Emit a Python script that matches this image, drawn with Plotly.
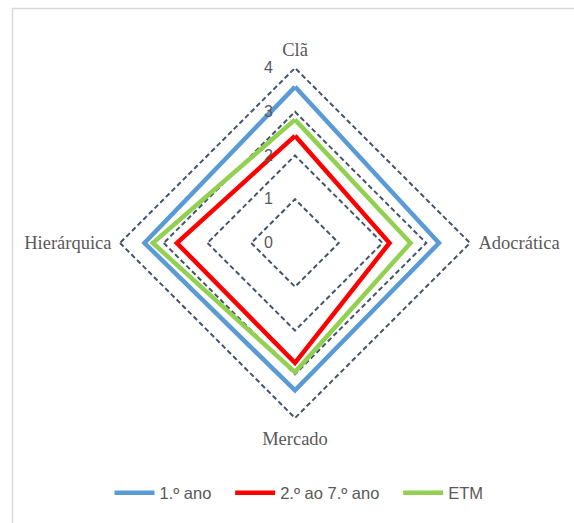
import plotly.graph_objects as go

# Organisational culture profiles (Cameron & Quinn style quadrants)
categories = ["Clã", "Adocrática", "Mercado", "Hierárquica"]
primeiro_ano = [3.57, 3.29, 3.37, 3.44]
segundo_ao_setimo = [2.45, 2.16, 2.74, 2.70]
etm = [2.82, 2.64, 2.95, 3.25]
radial_ticks = [0, 1, 2, 3, 4]

GAP = "\u00a0" * 3  # extra spacing between legend entries
series = [
    ("1.º ano" + GAP, primeiro_ano, "#5B9BD5"),
    ("2.º ao 7.º ano" + GAP, segundo_ao_setimo, "#FF0000"),
    ("ETM", etm, "#92D050"),
]

W, H = 574, 523
r_max = 4.03                 # a touch above 4 so the outer dashed ring is drawn
cx, cy = 295, 243
rad = 175 * r_max / 4

fig = go.Figure()
for name, vals, color in series:
    fig.add_trace(go.Scatterpolar(
        r=vals + vals[:1],
        theta=categories + categories[:1],
        mode="lines",
        name=name,
        line=dict(color=color, width=4.5),
        hoverinfo="skip",
    ))

fig.update_layout(
    width=W, height=H,
    margin=dict(l=0, r=0, t=0, b=0),
    paper_bgcolor="white",
    plot_bgcolor="white",
    showlegend=True,
    legend=dict(
        orientation="h",
        x=299 / W, xanchor="center",
        y=(H - 493) / H, yanchor="middle",
        font=dict(family="Liberation Sans, Arial, sans-serif", size=16.5, color="#595959"),
        itemwidth=40,
        tracegroupgap=0,
    ),
    polar=dict(
        domain=dict(
            x=[(cx - rad) / W, (cx + rad) / W],
            y=[(H - cy - rad) / H, (H - cy + rad) / H],
        ),
        bgcolor="white",
        gridshape="linear",
        radialaxis=dict(
            range=[0, r_max],
            tickvals=radial_ticks,
            ticktext=[str(v) for v in radial_ticks],
            angle=90,
            tickangle=90,
            side="counterclockwise",
            showline=False,
            ticks="outside",
            ticklen=16,
            tickcolor="rgba(0,0,0,0)",
            showgrid=True,
            gridcolor="#44546A",
            gridwidth=1.6,
            griddash="5px,3px",
            tickfont=dict(family="Liberation Sans, Arial, sans-serif", size=16, color="#595959"),
        ),
        angularaxis=dict(
            rotation=90,
            direction="clockwise",
            showline=False,
            showgrid=False,
            ticks="outside",
            ticklen=3,
            tickcolor="rgba(0,0,0,0)",
            tickfont=dict(family="Liberation Serif, Times New Roman, serif", size=18.5, color="#595959"),
        ),
    ),
    shapes=[
        dict(
            type="rect", xref="paper", yref="paper",
            x0=12.5 / W, y0=-0.02, x1=1.02, y1=(H - 8.5) / H,
            line=dict(color="#D9D9D9", width=1.5),
            fillcolor="rgba(0,0,0,0)",
        )
    ],
)

fig.write_html("out.html")
